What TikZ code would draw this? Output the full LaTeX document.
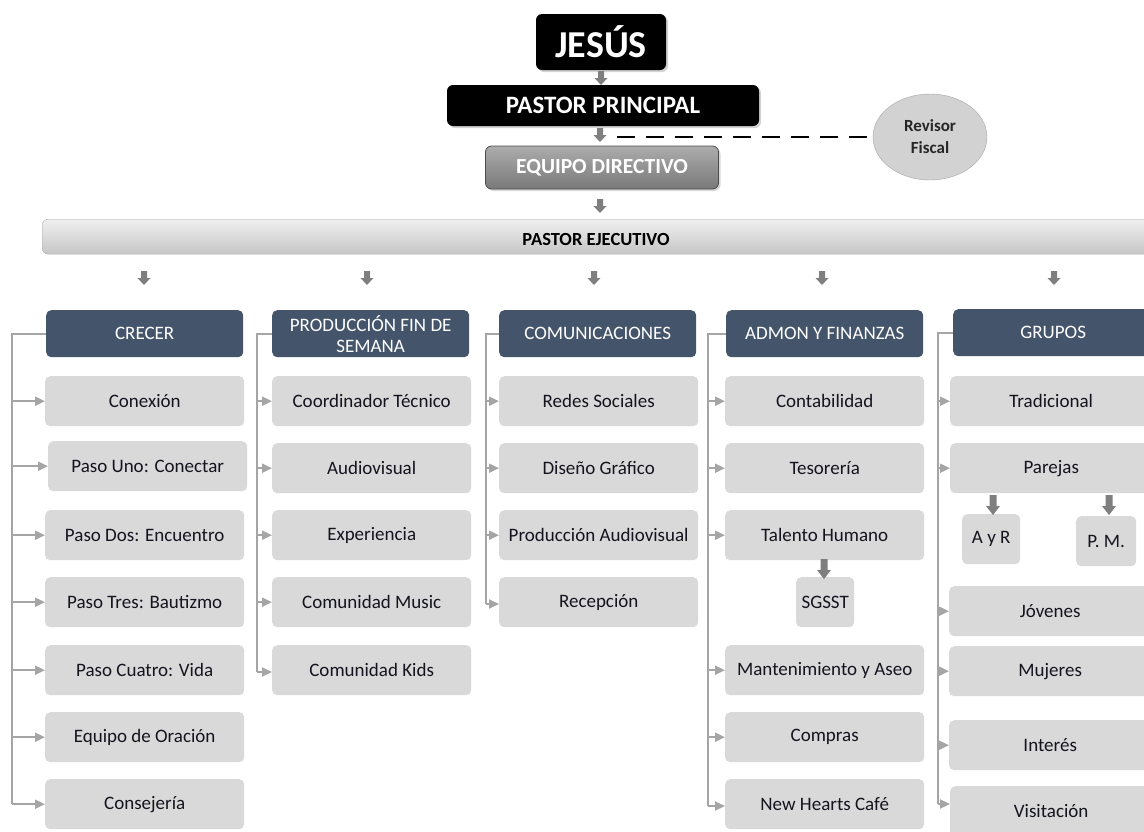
\documentclass[tikz,border=0pt]{standalone}
\usepackage{fontspec}
\setmainfont{Carlito}
\usetikzlibrary{arrows.meta,shapes.geometric,shadows}
\definecolor{hdr}{HTML}{44546A}
\definecolor{kidfill}{HTML}{D9D9D9}
\definecolor{agray}{HTML}{7F7F7F}
\definecolor{lgray}{HTML}{A5A5A5}
\definecolor{txt}{HTML}{14141E}
\tikzset{
  box/.style={rounded corners=5pt, inner sep=2pt, anchor=north west, align=center},
  hdrbox/.style={box, fill=hdr, text=white, minimum width=197pt, minimum height=47pt,
    font=\fontsize{19}{21}\selectfont},
  kid/.style={box, fill=kidfill, text=txt, minimum width=199pt, minimum height=50pt,
    font=\fontsize{19}{21}\selectfont},
  small/.style={box, fill=kidfill, text=txt, minimum width=58pt, minimum height=50pt,
    font=\fontsize{19}{21}\selectfont},
  topbox/.style={rounded corners=6pt, fill=black, text=white, inner sep=2pt,
    drop shadow={opacity=0.35, shadow xshift=2pt, shadow yshift=-2pt}},
  conn/.style={draw=lgray, line width=2pt},
  karr/.style={draw=lgray, line width=2pt, -{Triangle[length=10pt,width=9pt]}},
  pics/darr/.style={code={\fill[agray] (-3,0) -- (3,0) -- (3,7) -- (6.5,7) -- (0,14) -- (-6.5,7) -- (-3,7) -- cycle;}},
  pics/bigdarr/.style={code={\fill[agray] (-3.5,0) -- (3.5,0) -- (3.5,11) -- (7,11) -- (0,20) -- (-7,11) -- (-3.5,11) -- cycle;}}
}
\begin{document}
\begin{tikzpicture}[x=1pt,y=-1pt]
\useasboundingbox (0,0) rectangle (1144,831);
\clip (0,0) rectangle (1144,831);

% top hierarchy
\node[topbox, minimum width=130pt, minimum height=56pt, font=\bfseries\fontsize{38}{40}\selectfont] (jesus) at (601,42) {JESÚS};
\node[topbox, minimum width=312pt, minimum height=41pt, font=\bfseries\fontsize{25}{27}\selectfont] (pp) at (603,105.5) {PASTOR PRINCIPAL};
\node[rounded corners=6pt, top color=gray!65, bottom color=gray!95!black, draw=black!70, line width=0.8pt,
  text=white, minimum width=233pt, minimum height=43pt, font=\bfseries\fontsize{21.5}{23}\selectfont,
  drop shadow={opacity=0.3, shadow xshift=2pt, shadow yshift=-2pt}] (ed) at (602,167.5) {EQUIPO DIRECTIVO};
\node[ellipse, fill=gray!35, draw=gray!70, minimum width=114pt, minimum height=86pt, align=center,
  text=black!85, font=\bfseries\fontsize{17}{22}\selectfont] (rf) at (930,137) {Revisor\\Fiscal};
\node[box, rounded corners=6pt, top color=gray!12, bottom color=gray!45, draw=gray!65,
  minimum width=1108pt, minimum height=35pt] (pe) at (42,219) {};
\node[font=\bfseries\fontsize{18.5}{20}\selectfont, text=black] (pet) at (596,239) {PASTOR EJECUTIVO};

\pic at (601,71) {darr};
\pic at (600,128) {darr};
\pic at (600,199) {darr};
\coordinate (dstart) at (617,137);
\draw[black, line width=2.5pt, dash pattern=on 18pt off 11pt] (dstart) -- (rf.west);

\foreach \x in {144,367,594,822,1054} { \pic at (\x,271) {darr}; }

% headers
\node[hdrbox] (h1) at (46,310) {CRECER};
\node[hdrbox] (h2) at (272,310) {PRODUCCIÓN FIN DE\\SEMANA};
\node[hdrbox] (h3) at (499,310) {COMUNICACIONES};
\node[hdrbox] (h4) at (726,310) {ADMON Y FINANZAS};
\node[hdrbox, minimum width=200pt] (h5) at (953,309) {GRUPOS};

% CRECER
\node[kid] (c1) at (45,376) {Conexión};
\node[kid] (c2) at (48,441) {Paso Uno: Conectar};
\node[kid] (c3) at (45,510) {Paso Dos: Encuentro};
\node[kid] (c4) at (45,577) {Paso Tres: Bautizmo};
\node[kid] (c5) at (45,645) {Paso Cuatro: Vida};
\node[kid] (c6) at (45,712) {Equipo de Oración};
\node[kid] (c7) at (45,779) {Consejería};
\coordinate (t1) at (12,804);
\draw[conn] (h1.west) -| (t1);
\foreach \n in {c1,c2,c3,c4,c5,c6,c7} { \draw[karr] (t1 |- \n.west) -- (\n.west); }

% PRODUCCION
\node[kid] (p1) at (272,376) {Coordinador Técnico};
\node[kid] (p2) at (272,443) {Audiovisual};
\node[kid] (p3) at (272,510) {Experiencia};
\node[kid] (p4) at (272,577) {Comunidad Music};
\node[kid] (p5) at (272,645) {Comunidad Kids};
\coordinate (t2) at (257,672);
\draw[conn] (h2.west) -| (t2);
\foreach \n in {p1,p2,p3,p4} { \draw[karr] (t2 |- \n.west) -- (\n.west); }
\draw[karr] (t2) -- (t2 -| p5.west);

% COMUNICACIONES
\node[kid] (m1) at (499,376) {Redes Sociales};
\node[kid] (m2) at (499,443) {Diseño Gráfico};
\node[kid] (m3) at (499,510) {Producción Audiovisual};
\node[kid] (m4) at (499,577) {Recepción};
\coordinate (t3) at (486,604);
\draw[conn] (h3.west) -| (t3);
\foreach \n in {m1,m2,m3} { \draw[karr] (t3 |- \n.west) -- (\n.west); }
\draw[karr] (t3) -- (t3 -| m4.west);

% ADMON
\node[kid] (a1) at (725,376) {Contabilidad};
\node[kid] (a2) at (725,443) {Tesorería};
\node[kid] (a3) at (725,510) {Talento Humano};
\node[small] (sg) at (796,577) {SGSST};
\node[kid] (a4) at (725,645) {Mantenimiento y Aseo};
\node[kid] (a5) at (725,712) {Compras};
\node[kid] (a6) at (725,779) {New Hearts Café};
\pic at (824,559) {bigdarr};
\coordinate (t4) at (708,806);
\draw[conn] (h4.west) -| (t4);
\foreach \n in {a1,a2,a3,a4,a5} { \draw[karr] (t4 |- \n.west) -- (\n.west); }
\draw[karr] (t4) -- (t4 -| a6.west);

% GRUPOS
\node[kid, minimum width=202pt] (g1) at (950,376) {Tradicional};
\node[kid, minimum width=202pt] (g2) at (950,443) {Parejas};
\node[small] (ayr) at (962,514) {A y R};
\node[small, minimum width=60pt] (pm) at (1076,516) {P. M.};
\node[kid, minimum width=202pt] (g3) at (949,586) {Jóvenes};
\node[kid, minimum width=202pt] (g4) at (949,646) {Mujeres};
\node[kid, minimum width=202pt] (g5) at (949,720) {Interés};
\node[kid, minimum width=202pt] (g6) at (950,786) {Visitación};
\pic at (993,495) {bigdarr};
\pic at (1109,495) {bigdarr};
\coordinate (t5) at (938,804);
\draw[conn] (h5.west) -| (t5);
\foreach \n in {g1,g2,g3,g4,g5} { \draw[karr] (t5 |- \n.west) -- (\n.west); }
\draw[karr] (t5) -- (t5 -| g6.west);
\end{tikzpicture}
\end{document}
